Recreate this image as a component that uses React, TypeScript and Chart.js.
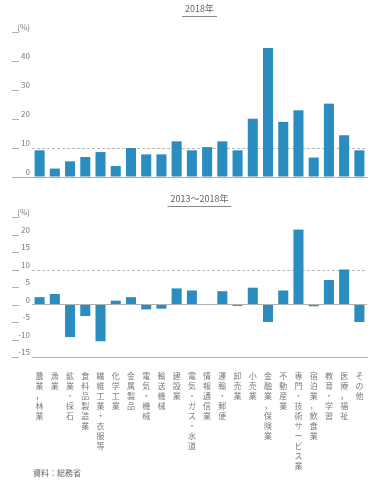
import React, { useEffect, useRef } from "react";
import { Chart, registerables } from "chart.js";

Chart.register(...registerables);

// ---- data ----
const categories = [
  "農業，林業",
  "漁業",
  "鉱業・採石",
  "食料品製造業",
  "繊維工業・衣服等",
  "化学工業",
  "金属製品",
  "電気・機械",
  "輸送機械",
  "建設業",
  "電気・ガス・水道",
  "情報通信業",
  "運輸・郵便",
  "卸売業",
  "小売業",
  "金融業，保険業",
  "不動産業",
  "専門・技術サービス業",
  "宿泊業，飲食業",
  "教育・学習",
  "医療，福祉",
  "その他",
];

const share2018 = [9.2, 2.9, 5.4, 6.9, 8.6, 3.8, 10.0, 7.8, 7.8, 12.3, 9.2, 10.3, 12.3, 9.2, 20.1, 44.5, 19.0, 23.0, 6.7, 25.3, 14.4, 9.2];
const change2013to2018 = [2.1, 3.0, -9.3, -3.3, -10.5, 1.1, 2.1, -1.4, -1.2, 4.6, 4.0, 0.0, 3.8, -0.4, 4.8, -5.0, 4.0, 21.4, -0.5, 7.0, 10.0, -5.0];

const topTicks = { min: 0, max: 50, step: 10 };
const bottomTicks = { min: -15, max: 25, step: 5 };
const topReference = 10;
const bottomReference = 10;
const topTitle = "2018年";
const bottomTitle = "2013～2018年";
const unitLabel = "(%)";
const sourceNote = "資料：総務省";

// ---- styles ----
const FONT = '"Noto Sans CJK JP", "Noto Sans", sans-serif';
const BAR = "#2a8cbf";
const AXIS = "#b0b0b0";
const TEXT = "#7a7a7a";

type PanelProps = {
  values: number[];
  range: { min: number; max: number; step: number };
  refValue: number;
  title: string;
  showLabels: boolean;
  height: number;
  chartTop: number;
  chartBottom: number;
  fullBaseline: boolean;
};

function BarPanel(p: PanelProps) {
  const ref = useRef<HTMLCanvasElement | null>(null);
  useEffect(() => {
    if (!ref.current) return;
    const decor = {
      id: "decor",
      beforeDatasetsDraw(chart: any) {
        const { ctx, chartArea, scales } = chart;
        const y = scales.y;
        const ry = Math.round(y.getPixelForValue(p.refValue)) + 0.5;
        ctx.save();
        ctx.strokeStyle = "#b8b8b8";
        ctx.lineWidth = 1;
        ctx.setLineDash([3, 2]);
        ctx.beginPath();
        ctx.moveTo(chartArea.left, ry);
        ctx.lineTo(chartArea.right, ry);
        ctx.stroke();
        ctx.restore();
      },
      afterDraw(chart: any) {
        const { ctx, chartArea, scales } = chart;
        const y = scales.y;
        ctx.save();
        ctx.strokeStyle = AXIS;
        ctx.lineWidth = 1;
        ctx.beginPath();
        y.ticks.forEach((t: any) => {
          const py = Math.round(y.getPixelForValue(t.value)) + 0.5;
          ctx.moveTo(12, py);
          ctx.lineTo(19, py);
        });
        if (p.fullBaseline) {
          const py = Math.round(y.getPixelForValue(0)) + 0.5;
          ctx.moveTo(12, py);
          ctx.lineTo(chartArea.right, py);
        }
        ctx.stroke();
        // title
        ctx.font = `9px ${FONT}`;
        ctx.fillStyle = "#666";
        ctx.textAlign = "center";
        ctx.textBaseline = "middle";
        const cx = (chartArea.left + chartArea.right) / 2;
        ctx.fillText(p.title, cx, 9);
        const w = ctx.measureText(p.title).width;
        ctx.strokeStyle = "#888";
        ctx.beginPath();
        ctx.moveTo(cx - w / 2 - 3, 16.5);
        ctx.lineTo(cx + w / 2 + 3, 16.5);
        ctx.stroke();
        ctx.restore();
      },
    };
    const chart = new Chart(ref.current, {
      type: "bar",
      data: {
        labels: categories,
        datasets: [
          {
            data: p.values,
            backgroundColor: BAR,
            barPercentage: 0.66,
            categoryPercentage: 1,
          },
        ],
      },
      options: {
        animation: false,
        responsive: false,
        maintainAspectRatio: false,
        layout: { padding: { top: p.chartTop, right: 4, left: 0, bottom: 0 } },
        plugins: {
          legend: { display: false },
          tooltip: { enabled: false },
          title: { display: false },
        },
        scales: {
          x: {
            grid: { display: false },
            border: { display: true, color: AXIS, width: 1 },
            ticks: {
              display: p.showLabels,
              autoSkip: false,
              maxRotation: 0,
              minRotation: 0,
              padding: 6,
              color: TEXT,
              font: { size: 8, family: FONT, lineHeight: "10px" },
              callback: (_v: any, i: number) => Array.from(categories[i]),
            },
            afterFit: (s: any) => {
              s.height = p.height - p.chartBottom;
            },
          },
          y: {
            min: p.range.min,
            max: p.range.max,
            ticks: {
              stepSize: p.range.step,
              color: TEXT,
              font: { size: 8, family: FONT },
              labelOffset: -5,
              padding: 2,
              callback: (v: any) => (v === p.range.max ? unitLabel : String(v)),
            },
            grid: {
              drawTicks: false,
              color: (c: any) => (c.tick && c.tick.value === 0 ? AXIS : "rgba(0,0,0,0)"),
            },
            border: { display: false },
            afterFit: (s: any) => {
              s.width = 32;
            },
          },
        },
      },
      plugins: [decor],
    } as any);
    return () => chart.destroy();
  }, []);
  return <canvas ref={ref} width={371} height={p.height} style={{ display: "block" }} />;
}

export default function App() {
  return (
    <div style={{ position: "absolute", left: 0, top: 0, width: 371, height: 480, background: "#fff" }}>
      <BarPanel
        values={share2018}
        range={topTicks}
        refValue={topReference}
        title={topTitle}
        showLabels={false}
        height={190}
        chartTop={32}
        chartBottom={177}
        fullBaseline={true}
      />
      <BarPanel
        values={change2013to2018}
        range={bottomTicks}
        refValue={bottomReference}
        title={bottomTitle}
        showLabels={true}
        height={280}
        chartTop={27}
        chartBottom={167}
        fullBaseline={false}
      />
      <div
        style={{
          position: "absolute",
          left: 33,
          top: 467,
          fontSize: 8,
          lineHeight: "12px",
          color: "#666",
          fontFamily: FONT,
        }}
      >
        {sourceNote}
      </div>
    </div>
  );
}
